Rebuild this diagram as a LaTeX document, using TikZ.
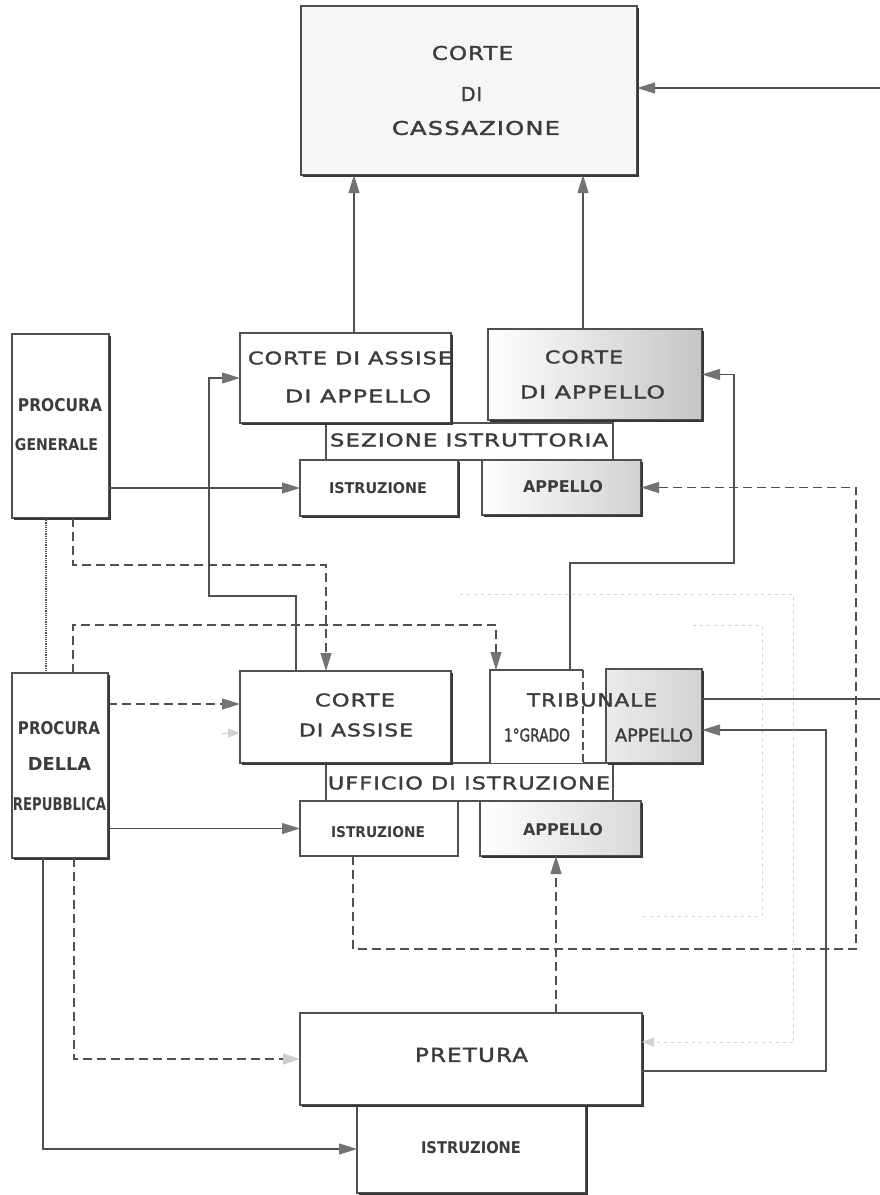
\documentclass[tikz,border=0pt]{standalone}
\usepackage{fontspec}
\setmainfont{DejaVu Sans}
\newfontfamily\lsfont[LetterSpace=5,FakeBold=1.6]{DejaVu Sans}
\newfontfamily\pfont[FakeBold=1.6]{DejaVu Sans}
\usetikzlibrary{arrows.meta}
\definecolor{lnc}{RGB}{80,80,80}
\definecolor{txc}{RGB}{60,60,60}
\definecolor{arc}{RGB}{115,115,115}
\definecolor{shc}{RGB}{55,55,55}
\newcommand\ft[3]{\resizebox{#1pt}{#2pt}{#3}}
\newcommand\bx[6]{\node[box,#6,minimum width={#4-#2},minimum height={#5-#3},anchor=north west] (#1) at (#2,#3) {};}
\newcommand\shd[1]{\draw[shl] ([yshift=-2pt,xshift=1pt]#1.north east) -- ([xshift=1pt,yshift=-1pt]#1.south east) -- ([xshift=2pt,yshift=-1pt]#1.south west);}
\tikzset{
  box/.style={draw=lnc,line width=1.2pt,inner sep=0pt,outer sep=0pt,fill=white},
  shl/.style={draw=shc,line width=1.8pt},
  ln/.style={draw=lnc,line width=1.1pt},
  arr/.style={ln,-{Triangle[length=18pt,width=11pt,color=arc]}},
  darr/.style={arr,dash pattern=on 9pt off 5pt},
  larr/.style={ln,dash pattern=on 9pt off 5pt,-{Triangle[length=17pt,width=11pt,color=gray!40]}},
  fdot/.style={draw=gray!35,line width=0.8pt,dash pattern=on 3pt off 4pt},
  farr/.style={draw=gray!35,line width=0.8pt,-{Triangle[length=12pt,width=9pt,color=gray!35]}},
  dotl/.style={draw=lnc,line width=2pt,dash pattern=on 1.2pt off 1pt},
  txt/.style={inner sep=0pt,outer sep=0pt,text=txc}
}
\begin{document}
\begin{tikzpicture}[x=1pt,y=-1pt]
\useasboundingbox (0,0) rectangle (880,1195);
% bands
\bx{sez}{326}{423}{613}{460}{}
\bx{uff}{326}{763}{613}{801}{}
% boxes
\bx{cass}{301}{6}{637}{175}{fill=gray!7}
\bx{pg}{12}{334}{109}{518}{}
\bx{cada}{240}{333}{451}{423}{}
\bx{capp}{488}{329}{702}{420}{left color=white,right color=gray!45}
\bx{istr1}{300}{460}{458}{516}{}
\bx{app1}{482}{460}{641}{515}{left color=white,right color=gray!35}
\bx{pr}{12}{673}{108}{858}{}
\bx{ca}{240}{671}{451}{763}{}
\bx{trib1}{490}{670}{583}{763}{draw=none}
\draw[box] (trib1.north east) -- (trib1.north west) -- (trib1.south west);
\draw[ln,dash pattern=on 8pt off 4pt] (trib1.north east) -- (trib1.south east);
\bx{tribapp}{606}{669}{702}{763}{left color=gray!15,right color=gray!35}
\bx{istr2}{300}{801}{458}{856}{}
\bx{app2}{480}{801}{641}{856}{left color=white,right color=gray!30}
\bx{pret}{300}{1013}{642}{1105}{}
\bx{istr3}{357}{1105}{586}{1193}{}
\foreach \n in {cass,pg,cada,capp,istr1,app1,pr,ca,tribapp,app2,pret,istr3} {\shd{\n}}
% texts
\node[txt] (t1) at (472.5,53) {\ft{81}{14}{\lsfont CORTE}};
\node[txt] (t2) at (471.5,94) {\ft{21}{14}{\lsfont DI}};
\node[txt] (t3) at (476,128) {\ft{168}{14}{\lsfont CASSAZIONE}};
\node[txt] (t4) at (60,405) {\ft{84}{13}{\bfseries PROCURA}};
\node[txt] (t5) at (56.5,445) {\ft{83}{12}{\bfseries GENERALE}};
\node[txt] (t6) at (350,358) {\ft{204}{13}{\lsfont CORTE DI ASSISE}};
\node[txt] (t7) at (358,396) {\ft{146}{13}{\lsfont DI APPELLO}};
\node[txt] (t8) at (584,357) {\ft{78}{13}{\lsfont CORTE}};
\node[txt] (t9) at (592.5,392) {\ft{145}{13}{\lsfont DI APPELLO}};
\node[txt] (t10) at (469,440) {\ft{278}{13}{\lsfont SEZIONE ISTRUTTORIA}};
\node[txt] (t11) at (378,488) {\ft{98}{11}{\bfseries ISTRUZIONE}};
\node[txt] (t12) at (563,487) {\ft{80}{12}{\bfseries APPELLO}};
\node[txt] (t13) at (59,728) {\ft{82}{13}{\bfseries PROCURA}};
\node[txt] (t14) at (59.5,764) {\ft{63}{13}{\bfseries DELLA}};
\node[txt] (t15) at (59.5,804) {\ft{93}{13}{\bfseries REPUBBLICA}};
\node[txt] (t16) at (355,700) {\ft{80}{13}{\lsfont CORTE}};
\node[txt] (t17) at (356,730) {\ft{114}{13}{\lsfont DI ASSISE}};
\node[txt] (t18) at (592,700) {\ft{130}{13}{\lsfont TRIBUNALE}};
\node[txt] (t19) at (537,735) {\ft{66}{13}{\pfont 1°GRADO}};
\node[txt] (t20) at (654,735) {\ft{78}{13}{\pfont APPELLO}};
\node[txt] (t21) at (469,783) {\ft{282}{13}{\lsfont UFFICIO DI ISTRUZIONE}};
\node[txt] (t22) at (378,832) {\ft{94}{11}{\bfseries ISTRUZIONE}};
\node[txt] (t23) at (563,830) {\ft{80}{12}{\bfseries APPELLO}};
\node[txt] (t24) at (471.5,1055) {\ft{113}{14}{\lsfont PRETURA}};
\node[txt] (t25) at (471,1148) {\ft{100}{12}{\bfseries ISTRUZIONE}};
% free ends
\coordinate (ein) at (880,88);
\coordinate (eout) at (880,699);
\coordinate (f1) at (460,594);
\coordinate (f2) at (693,625);
\coordinate (f2e) at (640,916);
% connectors
\draw[arr] ([xshift=114pt]cada.north west) -- ([xshift=53pt]cass.south west);
\draw[arr] ([xshift=95pt]capp.north west) -- ([xshift=282pt]cass.south west);
\draw[arr] (ein) -- (ein -| cass.east);
\draw[arr] (pg.east |- istr1.west) -- (istr1.west);
\draw[arr] ([xshift=56pt]ca.north west) |- (209,596) |- (cada.west);
\draw[arr] ([xshift=80pt]trib1.north west) |- (734,563) |- (capp.east);
\draw[darr] ([xshift=61pt]pg.south west) |- (326,565) -- ([xshift=86pt]ca.north west);
\draw[darr] ([xshift=61pt]pr.north west) |- (496,625) -- ([xshift=6pt]trib1.north west);
\draw[dotl] ([xshift=34pt]pg.south west) -- ([xshift=34pt]pr.north west);
\draw[darr] ([yshift=-31pt]pr.north east) -- ([yshift=-33pt]ca.north west);
\draw[farr] ([xshift=-18pt,yshift=-62pt]ca.north west) -- ([yshift=-62pt]ca.north west);
\draw[arr] (pr.east |- istr2.west) -- (istr2.west);
\draw[ln] ([yshift=-30pt]tribapp.north east) -- (eout);
\draw[arr] ([yshift=-12pt]pret.east) -| (826,730) -- ([yshift=-14pt]tribapp.east);
\draw[darr] ([xshift=53pt]istr2.south west) |- (856,949) |- (app1.east);
\draw[darr] ([xshift=256pt]pret.north west) -- ([xshift=76pt]app2.south west);
\draw[arr] ([xshift=31pt]pr.south west) |- (istr3.west);
\draw[larr] ([xshift=62pt]pr.south west) |- (pret.west);
\draw[fdot] (f1) -| (793,1042);
\draw[farr,dash pattern=on 3pt off 4pt] (793,1042) -- ([yshift=17pt]pret.east);
\draw[fdot] (f2) -| (762,916) -- (f2e);
\end{tikzpicture}
\end{document}
